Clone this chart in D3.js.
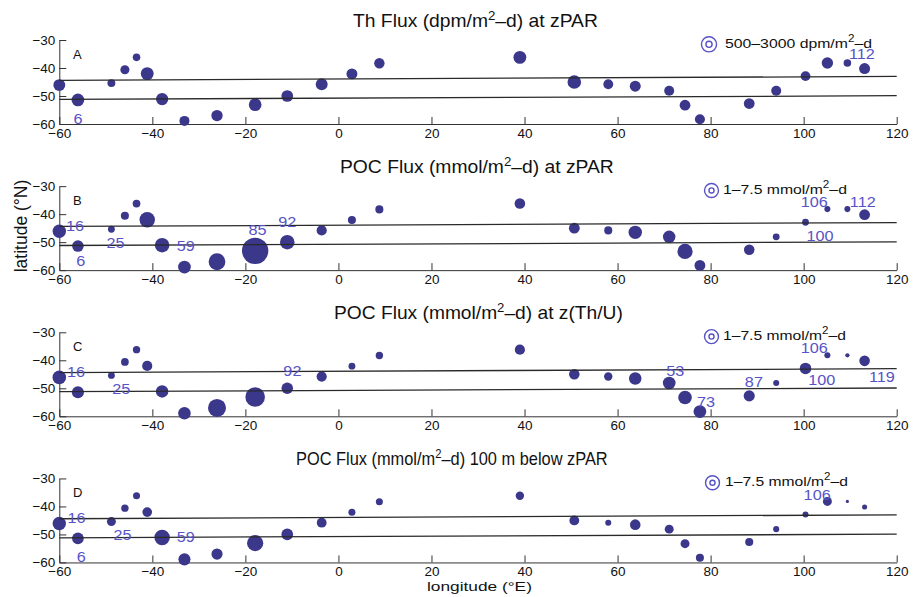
<!DOCTYPE html>
<html><head><meta charset="utf-8">
<script src="https://cdn.jsdelivr.net/npm/d3@7"></script>
<style>
html,body{margin:0;padding:0;background:#fff;}
svg{display:block;font-family:"Liberation Sans",Arial,Helvetica,sans-serif;}
</style></head>
<body>
<svg id="chart" width="914" height="597"></svg>
<script>
// ---- data ----
const stationLon = [-60.0, -56.0, -48.8, -45.9, -43.4, -41.1, -37.9, -33.1, -26.1, -17.9, -11.0, -3.6, 2.9, 8.8, 39.0, 50.7, 58.0, 63.8, 71.1, 74.5, 77.7, 88.3, 94.1, 100.4, 105.1, 109.4, 113.1];
const stationLat = [-46.1, -51.4, -45.4, -40.6, -36.2, -42.0, -51.1, -58.9, -57.0, -53.1, -50.0, -45.8, -42.1, -38.3, -36.2, -45.0, -45.8, -46.5, -48.1, -53.3, -58.3, -52.7, -48.1, -42.9, -38.2, -38.2, -40.2];
const thFluxZpar = [1860, 2100, 830, 1080, 750, 2170, 1980, 1320, 1690, 2100, 1800, 1860, 1580, 1420, 2170, 2430, 1270, 1580, 1320, 1520, 1320, 1520, 1320, 1270, 1690, 750, 1580];
const pocFluxZpar = [6.9, 5.1, 1.8, 2.5, 2.3, 9.2, 8.1, 6.2, 10.8, 26.8, 8.1, 4.0, 2.5, 2.5, 4.3, 4.5, 2.5, 6.9, 6.0, 8.9, 4.5, 4.3, 1.8, 1.8, 1.4, 1.4, 4.5];
const pocFluxZthu = [7.1, 5.6, 1.8, 2.3, 2.1, 4.0, 6.0, 6.0, 12.5, 14.7, 5.1, 4.0, 1.8, 2.1, 4.0, 4.3, 2.7, 6.0, 6.2, 7.1, 6.2, 4.8, 1.4, 5.1, 1.4, 0.7, 4.3];
const pocFlux100 = [6.9, 5.3, 3.1, 2.1, 1.9, 3.6, 9.2, 5.6, 4.8, 10.1, 5.3, 3.7, 1.9, 1.9, 2.7, 3.7, 1.4, 4.3, 3.1, 3.1, 2.5, 2.5, 1.4, 1.4, 3.1, 0.4, 1.0];

const frontLon = [-60, 120];
const frontNorthLat = [-44.4, -43.0];
const frontSouthLat = [-51.2, -49.9];

const xTicks = [-60, -40, -20, 0, 20, 40, 60, 80, 100, 120];
const yTicks = [-30, -40, -50, -60];

const panelLetters = ["A", "B", "C", "D"];
const titleMain = ["Th Flux (dpm/m", "POC Flux (mmol/m", "POC Flux (mmol/m", "POC Flux (mmol/m"];
const titleTail = ["\u2013d) at zPAR", "\u2013d) at zPAR", "\u2013d) at z(Th/U)", "\u2013d) 100 m below zPAR"];
const legendMain = ["500\u20133000 dpm/m", "1\u20137.5 mmol/m", "1\u20137.5 mmol/m", "1\u20137.5 mmol/m"];
const legendRange = [[500, 3000], [1, 7.5], [1, 7.5], [1, 7.5]];

// station-number annotations: [text, lon, lat]
const labelsA = [["6", -56.0, -58.0], ["112", 112.5, -34.8]];
const labelsB = [["16", -56.6, -44.1], ["25", -47.9, -50.1], ["6", -55.4, -56.5], ["59", -32.8, -51.25], ["85", -17.4, -45.5], ["92", -11.0, -42.9], ["106", 102.3, -35.6], ["112", 112.7, -35.5], ["100", 103.5, -47.6]];
const labelsC = [["16", -56.4, -44.2], ["25", -46.7, -50.3], ["92", -9.9, -43.75], ["53", 72.4, -43.75], ["73", 79.0, -54.7], ["87", 89.3, -47.6], ["106", 102.3, -35.6], ["100", 103.9, -47.0], ["119", 116.8, -46.0]];
const labelsD = [["16", -56.3, -44.2], ["25", -46.4, -50.2], ["59", -32.8, -50.8], ["6", -55.3, -57.9], ["106", 102.9, -35.9]];

// ---- drawing ----
const panels = [
  {values: thFluxZpar, k: 0.138, labels: labelsA},
  {values: pocFluxZpar, k: 2.55, labels: labelsB},
  {values: pocFluxZthu, k: 2.55, labels: labelsC},
  {values: pocFlux100, k: 2.55, labels: labelsD}
];
const titleX = [353, 340, 334, 296];
const titleW = [245, 274, 289, 312];
const legendX = [725, 723, 723, 725];
const legendW = [147, 124, 123, 123];
const symbolX = [709, 711.5, 711.5, 712.5];

const svg = d3.select("#chart");
const dotColor = "#3b378b";
const labelColor = "#5753c6";
const x = d3.scaleLinear().domain([-60, 120]).range([59.3, 896.7]);
const panelH = 84;

function fit(sel, w) {
  const bb = sel.node().getBBox();
  const s = w / bb.width;
  const t = sel.attr("data-tx");
  sel.attr("transform", t + ` scale(${s},1)`);
}

panels.forEach((p, i) => {
  const top = 40 + i * 146.15;
  const y = d3.scaleLinear().domain([-60, -30]).range([top + panelH, top]);
  const r = d3.scaleSqrt().domain([0, 1]).range([0, p.k]);
  const g = svg.append("g");

  // axes
  const ax = g.append("g").attr("transform", `translate(0,${top + panelH})`)
    .call(d3.axisBottom(x).tickValues(xTicks).tickSize(-7).tickSizeOuter(0).tickPadding(4));
  const ay = g.append("g").attr("transform", `translate(${x(-60)},0)`)
    .call(d3.axisLeft(y).tickValues(yTicks).tickSize(-7).tickSizeOuter(0).tickPadding(4));
  [ax, ay].forEach(a => {
    a.selectAll("path,line").attr("stroke", "#333").attr("stroke-width", 1);
    a.selectAll("text").attr("font-size", 13.5).attr("fill", "#111")
      .attr("font-family", "Liberation Sans, Arial, sans-serif");
  });

  // dots
  g.append("g").selectAll("circle").data(p.values).join("circle")
    .attr("cx", (d, j) => x(stationLon[j]))
    .attr("cy", (d, j) => y(stationLat[j]))
    .attr("r", d => r(d))
    .attr("fill", dotColor);

  // fronts
  const line = d3.line().x(d => x(d[0])).y(d => y(d[1]));
  [frontNorthLat, frontSouthLat].forEach(fl => {
    g.append("path").datum(frontLon.map((lo, j) => [lo, fl[j]]))
      .attr("d", line).attr("fill", "none").attr("stroke", "#2a2a2a").attr("stroke-width", 1.3);
  });

  // station labels
  p.labels.forEach(l => {
    g.append("text")
      .attr("transform", `translate(${x(l[1])},${y(l[2])}) scale(1.12,1)`)
      .attr("text-anchor", "middle").attr("dy", "0.36em")
      .attr("font-size", 14.5).attr("fill", labelColor).text(l[0]);
  });

  // panel letter
  g.append("text").attr("x", 73).attr("y", top + 19).attr("font-size", 13).attr("fill", "#111").text(panelLetters[i]);

  // title
  const tt = g.append("text").attr("data-tx", `translate(${titleX[i]},${top - 13.5})`)
    .attr("transform", `translate(${titleX[i]},${top - 13.5})`)
    .attr("font-size", 17.5).attr("fill", "#111");
  tt.append("tspan").text(titleMain[i]);
  tt.append("tspan").attr("dy", -7).attr("font-size", 12).text("2");
  tt.append("tspan").attr("dy", 7).text(titleTail[i]);
  fit(tt, titleW[i]);

  // legend
  const ly = top + 4.3;
  const lx = symbolX[i];
  g.append("circle").attr("cx", lx).attr("cy", ly).attr("r", r(legendRange[i][1]))
    .attr("fill", "none").attr("stroke", labelColor).attr("stroke-width", 1.4);
  g.append("circle").attr("cx", lx).attr("cy", ly).attr("r", r(legendRange[i][0]))
    .attr("fill", "none").attr("stroke", labelColor).attr("stroke-width", 1.4);
  const lt = g.append("text").attr("data-tx", `translate(${legendX[i]},${top + 8})`)
    .attr("transform", `translate(${legendX[i]},${top + 8})`)
    .attr("font-size", 13.5).attr("fill", "#111");
  lt.append("tspan").text(legendMain[i]);
  lt.append("tspan").attr("dy", -6).attr("font-size", 10).text("2");
  lt.append("tspan").attr("dy", 6).text("\u2013d");
  fit(lt, legendW[i]);
});

// axis titles
const xl = svg.append("text").attr("data-tx", "translate(427,591)").attr("transform", "translate(427,591)")
  .attr("font-size", 13.5).attr("fill", "#111").text("longitude (\u00b0E)");
fit(xl, 105);
const yl = svg.append("text").attr("transform", "translate(27,226) rotate(-90)")
  .attr("text-anchor", "middle").attr("font-size", 17.5).attr("fill", "#111").text("latitude (\u00b0N)");
</script>
</body></html>
